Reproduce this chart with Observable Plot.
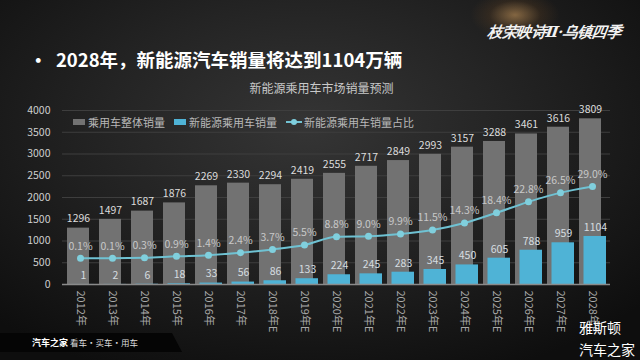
<!DOCTYPE html>
<html>
<head>
<meta charset="utf-8">
<script src="https://cdn.jsdelivr.net/npm/d3@7"></script>
<script src="https://cdn.jsdelivr.net/npm/@observablehq/plot@0.6"></script>
<style>
  html, body { margin: 0; padding: 0; }
  body { width: 640px; height: 360px; overflow: hidden;
    background: radial-gradient(ellipse 70% 75% at 48% 35%, #353535 0%, #242424 45%, #161616 80%, #0e0e0e 100%);
    font-family: "Noto Sans CJK SC", "Liberation Sans", sans-serif; position: relative; }
  .abs { position: absolute; white-space: nowrap; }
  #title { left: 29px; top: 46px; font-size: 18.5px; font-weight: 700; color: #fff; }
  #subtitle { left: 0; width: 643px; text-align: center; top: 79px; font-size: 12px; color: #c9c9c9; }
  #chart { left: 0; top: 100px; }
  #legend { left: 73px; top: 114px; font-size: 11px; color: #b8b8b8; display: flex; align-items: center; }
  #legend .it { display: flex; align-items: center; margin-right: 9px; }
  #legend .sw { width: 12px; height: 6px; margin-right: 3px; }
  #legend .ln { width: 16px; height: 8px; margin-right: 2px; position: relative; }
  #legend .ln::before { content: ""; position: absolute; left: 0; right: 0; top: 3px; height: 2px; background: #72c3d3; }
  #legend .ln::after { content: ""; position: absolute; left: 5px; top: 1px; width: 6px; height: 6px; border-radius: 50%; background: #7fcfde; }
  #brand { left: 488px; top: 23px; font-family: "DejaVu Serif", serif; font-style: italic; font-weight: 700; font-size: 15px; color: #f2f2f2; letter-spacing: -0.5px; transform: skewX(-8deg); }
  #glow { left: 470px; top: -10px; width: 90px; height: 50px; border-radius: 50%;
    background: radial-gradient(ellipse at center, rgba(255,190,110,0.45) 0%, rgba(160,100,40,0.15) 40%, rgba(0,0,0,0) 70%); }
  #footer { left: 0; top: 333px; width: 182px; height: 19px; background: #050505; clip-path: polygon(0 0, 172px 0, 182px 100%, 0 100%); }
  #footer span { position: absolute; left: 32px; top: 3px; font-size: 8.5px; color: #ddd; }
  #footer b { color: #fff; font-size: 9px; }
  #wm1 { left: 579px; top: 317px; font-size: 14px; color: #fff; }
  #wm2 { left: 579px; top: 339px; font-size: 14px; color: #fff; }
</style>
</head>
<body>
<div id="glow" class="abs"></div>
<div id="brand" class="abs">枝荣映诗Ⅱ·乌镇四季</div>
<div id="title" class="abs">•&nbsp; 2028年，新能源汽车销量将达到1104万辆</div>
<div id="subtitle" class="abs">新能源乘用车市场销量预测</div>
<div id="chart" class="abs"></div>
<div id="legend" class="abs"></div>
<div id="footer" class="abs"><span><b>汽车之家</b> 看车·买车·用车</span></div>
<div id="wm1" class="abs">雅斯顿</div>
<div id="wm2" class="abs">汽车之家</div>
<script>
// ---- data ----
const years = ["2012年","2013年","2014年","2015年","2016年","2017年","2018年E","2019年E","2020年E","2021年E","2022年E","2023年E","2024年E","2025年E","2026年E","2027年E","2028年E"];
const totalSales = [1296,1497,1687,1876,2269,2330,2294,2419,2555,2717,2849,2993,3157,3288,3461,3616,3809];
const nevSales = [1,2,6,18,33,56,86,133,224,245,283,345,450,605,788,959,1104];
const nevShare = [0.1,0.1,0.3,0.9,1.4,2.4,3.7,5.5,8.8,9.0,9.9,11.5,14.3,18.4,22.8,26.5,29.0];
const yTicks = [0,500,1000,1500,2000,2500,3000,3500,4000];
const seriesNames = ["乘用车整体销量","新能源乘用车销量","新能源乘用车销量占比"];

// secondary (share %) axis range, mapped onto the primary axis range
const yDomain = [0, 4000];
const shareDomain = [-10.4, 59.5];
const shareToPrimary = d3.scaleLinear().domain(shareDomain).range(yDomain);

const colors = { total: "#727272", nev: "#4fb3d6", line: "#6fc2d3", dot: "#80cfdd" };

const rows = years.map((year, i) => ({
  year, total: totalSales[i], nev: nevSales[i], share: nevShare[i],
  shareY: shareToPrimary(nevShare[i])
}));

const chart = Plot.plot({
  width: 640, height: 240,
  marginTop: 10, marginBottom: 56, marginLeft: 62, marginRight: 30,
  x: { type: "band", domain: years, padding: 0, label: null },
  y: { domain: yDomain, label: null },
  style: { background: "transparent", fontFamily: "'Noto Sans CJK SC', 'Liberation Sans', sans-serif", fontSize: "10.5px", color: "#cfcfcf" },
  marks: [
    Plot.ruleY(yTicks.filter(t => t > 0), { stroke: "#3e3e3e", strokeWidth: 1 }),
    Plot.barY(rows, { x: "year", y: "total", fill: colors.total, insetLeft: 3, insetRight: 7 }),
    Plot.barY(rows, { x: "year", y: "nev", fill: colors.nev, insetLeft: 7.5, insetRight: 2 }),
    Plot.ruleY([0], { stroke: "#8a8a8a", strokeWidth: 1.5 }),
    Plot.line(rows, { x: "year", y: "shareY", stroke: colors.line, strokeWidth: 2, curve: "monotone-x" }),
    Plot.dot(rows, { x: "year", y: "shareY", r: 3.5, fill: colors.dot, stroke: "none" }),
    Plot.text(rows, { x: "year", y: "total", text: d => String(d.total), dy: -9, dx: -2, fill: "#dcdcdc" }),
    Plot.text(rows, { x: "year", y: "shareY", text: d => d.share.toFixed(1) + "%", dy: -12, fill: "#c8c8c8" }),
    Plot.text(rows, { x: "year", y: "nev", text: d => String(d.nev), dy: -9, dx: 3, fill: "#d6dde0" }),
    Plot.axisY({ ticks: yTicks, tickSize: 0, tickPadding: 12, fill: "#cfcfcf", tickFormat: d => String(d), label: null }),
    Plot.axisX({ tickRotate: 90, tickSize: 0, tickPadding: 6, fill: "#a8a8a8", fontSize: 11, label: null })
  ]
});
document.getElementById("chart").appendChild(chart);

// legend
const legend = document.getElementById("legend");
const swatches = [
  `<span class="sw" style="background:${colors.total}"></span>`,
  `<span class="sw" style="background:${colors.nev}"></span>`,
  `<span class="ln"></span>`
];
seriesNames.forEach((name, i) => {
  const it = document.createElement("span");
  it.className = "it";
  it.innerHTML = swatches[i] + `<span>${name}</span>`;
  legend.appendChild(it);
});
</script>
</body>
</html>
